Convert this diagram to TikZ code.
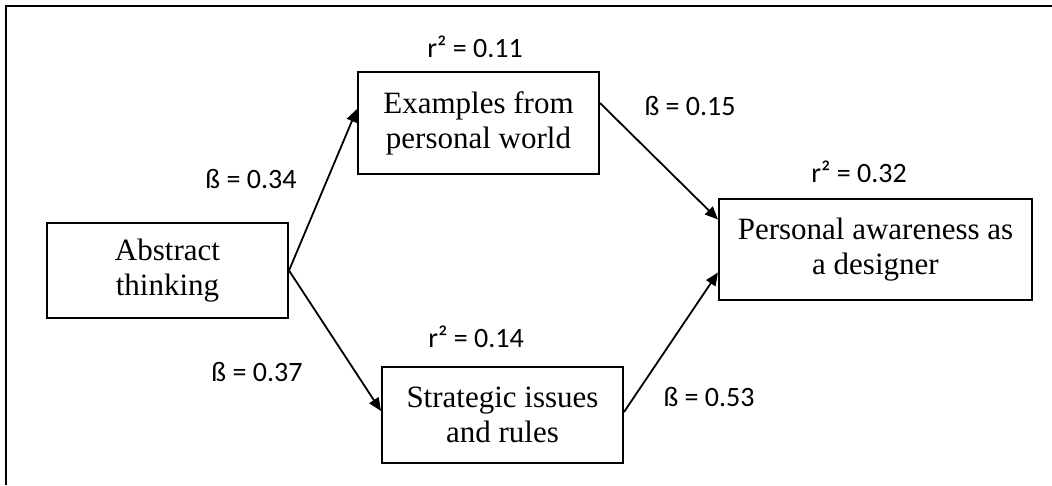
\documentclass[tikz,border=0pt]{standalone}
\usepackage{fontspec}
\setmainfont{Liberation Serif}
\newfontfamily\lblfont{Carlito}
\usetikzlibrary{positioning,arrows.meta}

\tikzset{
    box/.style={draw, line width=2pt, inner sep=0pt, align=center,
        font=\fontsize{31}{35}\selectfont},
    lbl/.style={anchor=base, inner sep=0pt, font=\lblfont\fontsize{28}{32}\selectfont},
    path/.style={line width=1.8pt, -{Triangle[length=13pt,width=11pt]}}
}

\begin{document}
\begin{tikzpicture}[x=1pt,y=-1pt]
                \useasboundingbox (0,0) rectangle (1052,485);
                \draw[line width=2pt] (6,485) -- (6,6) -- (1052,6);

                %Nodes
                \node[box, minimum width=241pt, minimum height=95pt]  at (167.5,270.5) (abstract)  {Abstract\\thinking};
                \node[box, minimum width=241pt, minimum height=102pt] at (478.5,123)   (examples)  {Examples from\\personal world};
                \node[box, minimum width=241pt, minimum height=96pt]  at (502.5,415)   (strategic) {Strategic issues\\and rules};
                \node[box, minimum width=313pt, minimum height=101pt] at (875.5,249.5) (awareness) {Personal awareness as\\a designer};

                %Labels
                \node[lbl] at (475,57)  (r2ex)  {r² = 0.11};
                \node[lbl] at (476,347) (r2st)  {r² = 0.14};
                \node[lbl] at (859,182) (r2aw)  {r² = 0.32};
                \node[lbl] at (251,188) (b1)    {ß = 0.34};
                \node[lbl] at (257,381) (b2)    {ß = 0.37};
                \node[lbl] at (690,115) (b3)    {ß = 0.15};
                \node[lbl] at (709,406) (b4)    {ß = 0.53};

                %Lines
                \draw[path] (abstract.east) -- ([yshift=14pt]examples.west);
                \draw[path] (abstract.east) -- ([yshift=4pt]strategic.west);
                \draw[path] ([yshift=20pt]examples.east) -- ([yshift=30pt]awareness.west);
                \draw[path] ([yshift=3pt]strategic.east) -- ([yshift=-23pt]awareness.west);
            \end{tikzpicture}
\end{document}
